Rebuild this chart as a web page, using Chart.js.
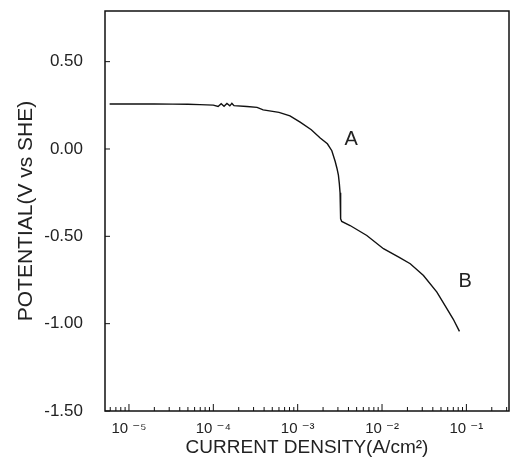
<!DOCTYPE html>
<html>
<head>
<meta charset="utf-8">
<script src="https://cdn.jsdelivr.net/npm/chart.js@4"></script>
<style>
  body { margin: 0; background: #fff; }
</style>
</head>
<body>
<canvas id="polarization" width="514" height="463"></canvas>
<script>
// values
var currentDensity = [5.9e-6, 1.0e-5, 2.0e-5, 3.3e-5, 5.0e-5, 6.9e-5, 1.0e-4, 1.14e-4, 1.24e-4, 1.34e-4,
  1.45e-4, 1.57e-4, 1.66e-4, 1.76e-4, 2.5e-4, 3.3e-4, 3.9e-4, 6.0e-4, 8.1e-4, 1.07e-3,
  1.45e-3, 1.85e-3, 2.25e-3, 2.54e-3, 2.78e-3, 2.92e-3, 3.04e-3, 3.12e-3, 3.18e-3, 3.22e-3,
  3.24e-3, 3.33e-3, 4.18e-3, 6.6e-3, 1.04e-2, 1.6e-2, 2.16e-2, 3.1e-2, 4.47e-2, 5.87e-2,
  7.0e-2, 8.28e-2];
var potential = [0.258, 0.258, 0.258, 0.257, 0.256, 0.254, 0.251, 0.243, 0.259, 0.245,
  0.261, 0.247, 0.261, 0.248, 0.243, 0.238, 0.224, 0.210, 0.190, 0.154,
  0.110, 0.063, 0.030, -0.010, -0.070, -0.110, -0.150, -0.200, -0.250, -0.320,
  -0.400, -0.415, -0.438, -0.495, -0.571, -0.620, -0.657, -0.724, -0.819, -0.914,
  -0.975, -1.044];

var decadeValues = [1e-5, 1e-4, 1e-3, 1e-2, 1e-1];
var decadeLabels = ['10 \u207B\u2075', '10 \u207B\u2074', '10 \u207B\u00B3', '10 \u207B\u00B2', '10 \u207B\u00B9'];
var yTickValues = [-1.5, -1.0, -0.5, 0, 0.5];

var markText = ['A', 'B'];
var markX = [4.3e-3, 9.7e-2];
var markY = [0.054, -0.76];

Chart.defaults.font.family = '"Liberation Sans", "DejaVu Sans", sans-serif';
Chart.defaults.color = '#222';

function isDecade(v) {
  var e = Math.log10(v);
  return Math.abs(e - Math.round(e)) < 1e-6;
}

// chart.js adds tick padding to the chart area edges, we don't want that
function noEdgePadding(scale) {
  scale.paddingTop = 0;
  scale.paddingBottom = 0;
  scale.paddingLeft = 0;
  scale.paddingRight = 0;
}

// frame, inward tick marks and the A / B labels
var plotDecor = {
  id: 'plotDecor',
  afterDraw: function(chart) {
    var ctx = chart.ctx;
    var area = chart.chartArea;
    var xs = chart.scales.x;
    var ys = chart.scales.y;
    ctx.save();
    ctx.strokeStyle = '#111';
    ctx.lineWidth = 1.5;
    ctx.strokeRect(area.left, area.top, area.right - area.left, area.bottom - area.top);

    ctx.lineWidth = 1;
    xs.ticks.forEach(function(t) {
      var px = xs.getPixelForValue(t.value);
      if (px <= area.left + 1 || px >= area.right - 1) return;
      var len = isDecade(t.value) ? 7 : 4;
      ctx.beginPath();
      ctx.moveTo(px, area.bottom);
      ctx.lineTo(px, area.bottom - len);
      ctx.stroke();
    });
    ys.ticks.forEach(function(t) {
      var py = ys.getPixelForValue(t.value);
      ctx.beginPath();
      ctx.moveTo(area.left, py);
      ctx.lineTo(area.left + 5, py);
      ctx.stroke();
    });

    ctx.fillStyle = '#222';
    ctx.font = '20px "Liberation Sans", "DejaVu Sans", sans-serif';
    ctx.textAlign = 'center';
    ctx.textBaseline = 'middle';
    for (var i = 0; i < markText.length; i++) {
      ctx.fillText(markText[i], xs.getPixelForValue(markX[i]), ys.getPixelForValue(markY[i]));
    }
    ctx.restore();
  }
};

var points = currentDensity.map(function(x, i) {
  return { x: x, y: potential[i] };
});

var chart = new Chart(document.getElementById('polarization'), {
  type: 'line',
  data: {
    datasets: [{
      data: points,
      borderColor: '#111',
      borderWidth: 1.4,
      pointRadius: 0,
      tension: 0,
      fill: false
    }]
  },
  options: {
    responsive: false,
    animation: false,
    layout: { padding: { top: 11, right: 5, left: 0, bottom: 0 } },
    plugins: {
      legend: { display: false },
      tooltip: { enabled: false }
    },
    scales: {
      x: {
        type: 'logarithmic',
        min: 5.2e-6,
        max: 0.32,
        grid: { display: false, drawTicks: false },
        border: { display: false },
        afterBuildTicks: function(scale) {
          var list = [];
          for (var e = -6; e <= -1; e++) {
            for (var m = 1; m <= 9; m++) {
              var v = m * Math.pow(10, e);
              if (v >= scale.min && v <= scale.max) list.push({ value: v });
            }
          }
          scale.ticks = list;
        },
        afterFit: function(scale) {
          scale.height = 52;
          noEdgePadding(scale);
        },
        ticks: {
          autoSkip: false,
          maxRotation: 0,
          padding: 9,
          font: { size: 15 },
          callback: function(value) {
            for (var i = 0; i < decadeValues.length; i++) {
              if (Math.abs(value / decadeValues[i] - 1) < 1e-6) return decadeLabels[i];
            }
            return '';
          }
        },
        title: {
          display: true,
          text: 'CURRENT DENSITY(A/cm\u00B2)',
          font: { size: 19 },
          padding: { top: 0, bottom: 4 }
        }
      },
      y: {
        min: -1.5,
        max: 0.79,
        grid: { display: false, drawTicks: false },
        border: { display: false },
        afterBuildTicks: function(scale) {
          scale.ticks = yTickValues.map(function(v) { return { value: v }; });
        },
        afterFit: function(scale) {
          scale.width = 105;
          noEdgePadding(scale);
        },
        ticks: {
          padding: 22,
          font: { size: 17 },
          callback: function(value) { return value.toFixed(2); }
        },
        title: {
          display: true,
          text: 'POTENTIAL(V vs SHE)',
          font: { size: 21 },
          padding: { top: 14, bottom: 0 }
        }
      }
    }
  },
  plugins: [plotDecor]
});
</script>
</body>
</html>
